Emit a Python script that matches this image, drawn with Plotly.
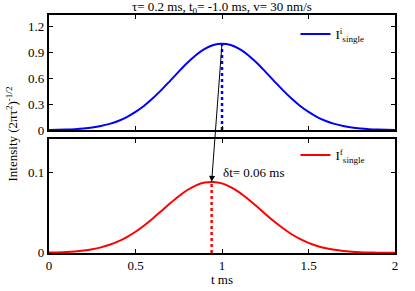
import plotly.graph_objects as go

t = [round(0.05 * i, 2) for i in range(41)]

I_initial = [0.0019, 0.0036, 0.0063, 0.0109, 0.0183, 0.0297, 0.0468, 0.0713, 0.105, 0.151,
             0.210, 0.282, 0.368, 0.465, 0.570, 0.677, 0.779, 0.869, 0.939, 0.985,
             1.000,
             0.985, 0.939, 0.869, 0.779, 0.677, 0.570, 0.465, 0.368, 0.282, 0.210,
             0.151, 0.105, 0.0713, 0.0468, 0.0297, 0.0183, 0.0109, 0.0063, 0.0036, 0.0019]

I_final = [0.00035, 0.00062, 0.00107, 0.00178, 0.00287, 0.00449, 0.0068, 0.0100, 0.0142, 0.0196,
           0.0262, 0.0340, 0.0427, 0.0520, 0.0614, 0.0702, 0.0779, 0.0837, 0.0871, 0.0879,
           0.0861, 0.0816, 0.0750, 0.0668, 0.0577, 0.0483, 0.0391, 0.0308, 0.0234, 0.0173,
           0.0124, 0.0086, 0.0058, 0.0038, 0.0024, 0.0015, 0.00086, 0.0005, 0.00028, 0.00015, 0.00008]

peak_i_t, peak_i = 1.0, 1.0
peak_f_t, peak_f = 0.94, 0.088

x_ticks = [0, 0.5, 1, 1.5, 2]
y1_ticks = [0, 0.3, 0.6, 0.9, 1.2]
y2_ticks = [0, 0.1]

title_text = "τ= 0.2 ms, t<sub>0</sub>= -1.0 ms, v= 30 nm/s"
ylabel = "Intensity (2πτ<sup>2</sup>)<sup>-1/2</sup>"
xlabel = "t ms"
dt_label = "δt= 0.06 ms"

FONT = "Liberation Serif, Times New Roman, Times, serif"
BLUE = "#0000ff"
RED = "#ff0000"

fig = go.Figure()

fig.add_trace(go.Scatter(x=t, y=I_initial, mode="lines", line=dict(color=BLUE, width=2, shape="spline"),
                         name="I<sup>i</sup><sub>single</sub>", xaxis="x", yaxis="y", legend="legend"))
fig.add_trace(go.Scatter(x=[peak_i_t, peak_i_t], y=[0, peak_i], mode="lines",
                         line=dict(color=BLUE, width=2.5, dash="dot"), showlegend=False,
                         xaxis="x", yaxis="y"))
fig.add_trace(go.Scatter(x=t, y=I_final, mode="lines", line=dict(color=RED, width=2, shape="spline"),
                         name="I<sup>f</sup><sub>single</sub>", xaxis="x2", yaxis="y2", legend="legend2"))
fig.add_trace(go.Scatter(x=[peak_f_t, peak_f_t], y=[0, peak_f], mode="lines",
                         line=dict(color=RED, width=2.5, dash="dot"), showlegend=False,
                         xaxis="x2", yaxis="y2"))

axis_common = dict(showline=True, linecolor="black", linewidth=2, mirror="ticks", ticks="inside",
                   ticklen=4, tickcolor="black", showgrid=False, zeroline=False, automargin=False,
                   tickfont=dict(family=FONT, size=13, color="black"))

# y2 scale: 0 at 253px, 0.1 per 80.7px; top peak pixel ~43.3 -> ~0.26 in y2 units
tail_y = 0.26

fig.update_layout(
    width=415, height=291,
    margin=dict(l=0, r=0, t=0, b=0, autoexpand=False),
    paper_bgcolor="white", plot_bgcolor="white",
    xaxis=dict(domain=[0.118, 0.952], range=[0, 2], tickvals=x_ticks, showticklabels=False,
               anchor="y", **axis_common),
    yaxis=dict(domain=[0.553, 0.948], range=[0, 1.33], tickvals=y1_ticks,
               ticktext=["0", "0.3", "0.6", "0.9", "1.2"], anchor="x", **axis_common),
    xaxis2=dict(domain=[0.118, 0.952], range=[0, 2], tickvals=x_ticks,
                ticktext=["0", "0.5", "1", "1.5", "2"], anchor="y2", **axis_common),
    yaxis2=dict(domain=[0.131, 0.522], range=[0, 0.141], tickvals=y2_ticks,
                ticktext=["0", "0.1"], anchor="x2", **axis_common),
    legend=dict(x=0.712, y=0.883, xanchor="left", yanchor="middle", bgcolor="rgba(0,0,0,0)",
                font=dict(family=FONT, size=13, color="black"), itemwidth=30),
    legend2=dict(x=0.712, y=0.467, xanchor="left", yanchor="middle", bgcolor="rgba(0,0,0,0)",
                 font=dict(family=FONT, size=13, color="black"), itemwidth=30),
    annotations=[
        dict(text=title_text, x=0.535, y=0.975, xref="paper", yref="paper", showarrow=False,
             xanchor="center", yanchor="middle", font=dict(family=FONT, size=13, color="black")),
        dict(text=ylabel, x=0.028, y=0.54, xref="paper", yref="paper", showarrow=False,
             textangle=-90, xanchor="center", yanchor="middle",
             font=dict(family=FONT, size=13, color="black")),
        dict(text=xlabel, x=0.535, y=0.04, xref="paper", yref="paper", showarrow=False,
             xanchor="center", yanchor="middle", font=dict(family=FONT, size=13, color="black")),
        dict(text=dt_label, x=0.995, y=0.099, xref="x2", yref="y2", showarrow=False,
             xanchor="left", yanchor="middle", font=dict(family=FONT, size=13, color="black")),
        dict(text="", x=peak_f_t, y=peak_f, xref="x2", yref="y2", ax=peak_i_t, ay=tail_y,
             axref="x2", ayref="y2", showarrow=True, arrowhead=2, arrowsize=1.2, arrowwidth=1,
             arrowcolor="black", standoff=0),
    ],
)

fig.write_html("out.html", config={"displayModeBar": False},
               post_script="document.body.style.margin='0';")
